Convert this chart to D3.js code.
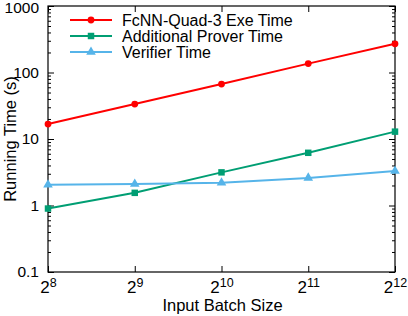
<!DOCTYPE html>
<html>
<head>
  <meta charset="utf-8">
  <title>Running Time vs Batch Size</title>
  <script src="https://d3js.org/d3.v7.min.js"></script>
  <style>
    body { margin: 0; background: #fff; }
    svg { font-family: "Liberation Sans", Arial, Helvetica, sans-serif; }
    .axis text { fill: #000; font-size: 15.5px; }
    .axis line { stroke: #000; }
    .axis path { display: none; }
  </style>
</head>
<body>
<script>
// data
var batchSizes = [256, 512, 1024, 2048, 4096];
var batchExp = [8, 9, 10, 11, 12];
var exeTime = [16.8, 33.5, 67, 136, 270];
var proverTime = [0.9, 1.55, 3.15, 6.2, 12.9];
var verifierTime = [2.05, 2.1, 2.2, 2.6, 3.3];
var seriesNames = ['FcNN-Quad-3 Exe Time', 'Additional Prover Time', 'Verifier Time'];
var yTicks = [0.1, 1, 10, 100, 1000];

var W = 408, H = 316;
var LEFT = 48, RIGHT = 395, TOP = 6, BOTTOM = 272;

var svg = d3.select('body').append('svg')
  .attr('width', W)
  .attr('height', H);

var x = d3.scaleLog().base(2).domain([256, 4096]).range([LEFT, RIGHT]);
var y = d3.scaleLog().domain([0.1, 1000]).range([BOTTOM, TOP]);

// minor ticks on the log axis (2..9 in each decade)
var minor = [];
for (var d = 0.1; d < 1000; d *= 10) {
  for (var k = 2; k < 10; k++) minor.push(+(d * k).toPrecision(3));
}

// left axis
var yl = svg.append('g').attr('class', 'axis')
  .attr('transform', 'translate(' + LEFT + ',0)')
  .call(d3.axisLeft(y).tickValues(yTicks).tickSize(-6).tickPadding(9)
    .tickFormat(function(d) { return d < 1 ? '0.1' : d3.format('d')(d); }));
// keep the top label inside the picture
yl.selectAll('.tick text').filter(function(d) { return d === 1000; }).attr('y', 2);
svg.append('g').attr('class', 'axis')
  .attr('transform', 'translate(' + LEFT + ',0)')
  .call(d3.axisLeft(y).tickValues(minor).tickSize(-3).tickFormat(''));

// right axis
svg.append('g').attr('class', 'axis')
  .attr('transform', 'translate(' + RIGHT + ',0)')
  .call(d3.axisRight(y).tickValues(yTicks).tickSize(-6).tickFormat(''));
svg.append('g').attr('class', 'axis')
  .attr('transform', 'translate(' + RIGHT + ',0)')
  .call(d3.axisRight(y).tickValues(minor).tickSize(-3).tickFormat(''));

// bottom axis with 2^n labels
var xb = svg.append('g').attr('class', 'axis')
  .attr('transform', 'translate(0,' + BOTTOM + ')')
  .call(d3.axisBottom(x).tickValues(batchSizes).tickSize(-6).tickPadding(9).tickFormat(''));
xb.selectAll('.tick text')
  .each(function(d, i) {
    var t = d3.select(this);
    t.text('2').style('font-size', '17px');
    t.append('tspan').attr('dy', '-0.45em').style('font-size', '12.5px').text(batchExp[i]);
  });

// top axis
svg.append('g').attr('class', 'axis')
  .attr('transform', 'translate(0,' + TOP + ')')
  .call(d3.axisTop(x).tickValues(batchSizes).tickSize(-6).tickFormat(''));

// frame
svg.append('rect')
  .attr('x', LEFT).attr('y', TOP)
  .attr('width', RIGHT - LEFT).attr('height', BOTTOM - TOP)
  .attr('fill', 'none').attr('stroke', '#000').attr('stroke-width', 1.2);

// axis titles
svg.append('text')
  .attr('x', (LEFT + RIGHT) / 2 + 1).attr('y', 311)
  .attr('text-anchor', 'middle').attr('font-size', '16.5px')
  .text('Input Batch Size');
svg.append('text')
  .attr('transform', 'translate(16,' + ((TOP + BOTTOM) / 2) + ') rotate(-90)')
  .attr('text-anchor', 'middle').attr('font-size', '16.5px')
  .text('Running Time (s)');

// series
var series = [
  {name: seriesNames[0], values: exeTime, color: '#ff0000', marker: d3.symbolCircle, size: 36},
  {name: seriesNames[1], values: proverTime, color: '#009e73', marker: d3.symbolSquare, size: 42},
  {name: seriesNames[2], values: verifierTime, color: '#56b4e9', marker: d3.symbolTriangle, size: 40}
];

var line = d3.line()
  .x(function(d) { return x(d[0]); })
  .y(function(d) { return y(d[1]); });

series.forEach(function(s) {
  var pts = batchSizes.map(function(b, i) { return [b, s.values[i]]; });
  svg.append('path')
    .attr('d', line(pts))
    .attr('fill', 'none')
    .attr('stroke', s.color)
    .attr('stroke-width', 2);
  svg.selectAll(null).data(pts).enter().append('path')
    .attr('d', d3.symbol().type(s.marker).size(s.size))
    .attr('transform', function(d) { return 'translate(' + x(d[0]) + ',' + y(d[1]) + ')'; })
    .attr('fill', s.color);
});

// legend
var legend = svg.append('g');
series.forEach(function(s, i) {
  var ly = 20 + i * 16;
  legend.append('line')
    .attr('x1', 70).attr('x2', 112).attr('y1', ly).attr('y2', ly)
    .attr('stroke', s.color).attr('stroke-width', 2);
  legend.append('path')
    .attr('d', d3.symbol().type(s.marker).size(s.size))
    .attr('transform', 'translate(91,' + ly + ')')
    .attr('fill', s.color);
  legend.append('text')
    .attr('x', 122).attr('y', ly)
    .attr('dy', '0.35em')
    .attr('font-size', '16px')
    .text(s.name);
});
</script>
</body>
</html>
